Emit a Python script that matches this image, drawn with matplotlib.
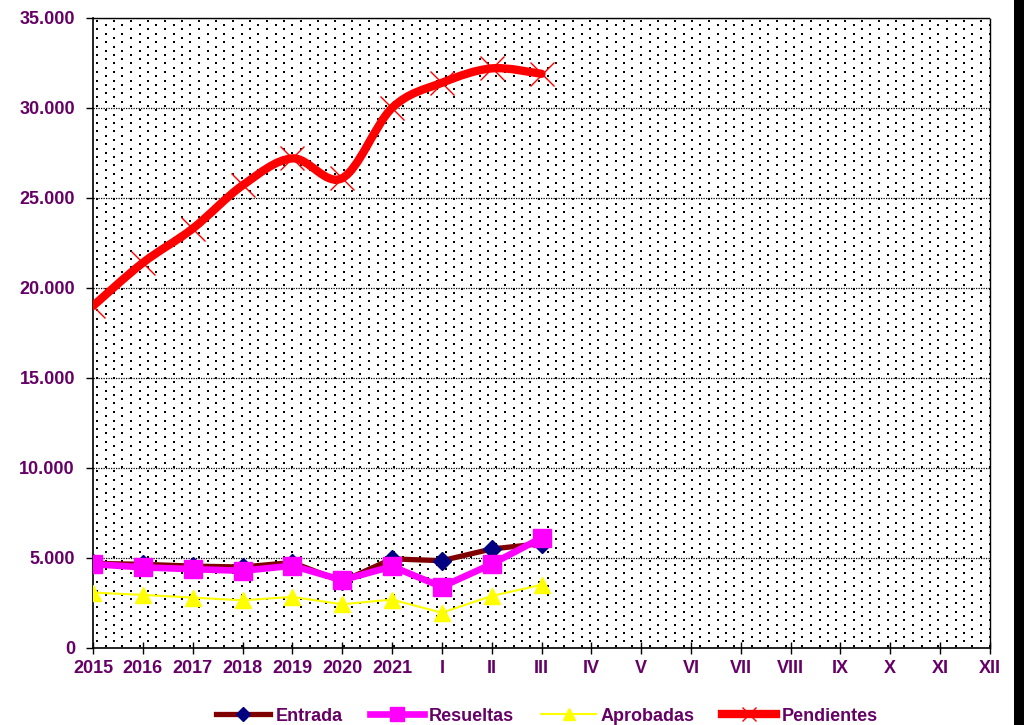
import numpy as np
import matplotlib
matplotlib.use('Agg')
import matplotlib.pyplot as plt
from matplotlib.path import Path
from matplotlib.patches import PathPatch, Rectangle
from matplotlib.lines import Line2D
from matplotlib.ticker import FuncFormatter

plt.rcParams['font.family'] = ['Liberation Sans', 'DejaVu Sans']

# categorias del eje X
categorias = ['2015', '2016', '2017', '2018', '2019', '2020', '2021',
              'I', 'II', 'III', 'IV', 'V', 'VI', 'VII', 'VIII', 'IX', 'X', 'XI', 'XII']

# valores (solo hay datos hasta III)
entrada = [4700, 4650, 4550, 4500, 4750, 3700, 4950, 4850, 5500, 5800]
resueltas = [4660, 4480, 4380, 4290, 4570, 3770, 4530, 3400, 4660, 6120]
aprobadas = [3080, 2950, 2800, 2650, 2840, 2430, 2690, 1960, 2890, 3510]
pendientes = [19000, 21400, 23300, 25700, 27200, 26100, 30000, 31400, 32200, 31900]

morado = '#660066'

fig = plt.figure(figsize=(10.24, 7.25), dpi=100)
ax = fig.add_axes([93 / 1024, 77 / 725, 897 / 1024, 630 / 725])

# fondo punteado tipo Excel
H, W = 630, 897
tex = np.zeros((H, W, 4))
paso = 8.5
for k, cx in enumerate(np.arange(3, W, paso)):
    off = 2 if k % 2 == 0 else 2 + paso / 2
    for cy in np.arange(off, H, paso):
        c, r = int(round(cx)), int(round(cy))
        tex[r:r + 2, c:c + 2, 3] = 1.0
ax.imshow(tex, extent=[0, 1, 0, 1], transform=ax.transAxes, aspect='auto',
          interpolation='nearest', zorder=0)

x = np.arange(len(entrada))

l1, = ax.plot(x, entrada, color='#800000', lw=3.8, marker='D', ms=9,
              mfc='#000080', mec='#000080', zorder=3, label='Entrada')
l2, = ax.plot(x, resueltas, color='#FF00FF', lw=4.8, marker='s', ms=13,
              mfc='#FF00FF', mec='#FF00FF', zorder=4, label='Resueltas')
l3, = ax.plot(x, aprobadas, color='#FFFF00', lw=1.5, marker='^', ms=11,
              mfc='#FFFF00', mec='#FFFF00', zorder=5, label='Aprobadas')

# linea suavizada de pendientes (curva bezier por los puntos)
pts = np.column_stack([x, pendientes]).astype(float)
n = len(pts)
verts = [pts[0]]
codes = [Path.MOVETO]
for i in range(n - 1):
    p0 = pts[max(i - 1, 0)]
    p1 = pts[i]
    p2 = pts[i + 1]
    p3 = pts[min(i + 2, n - 1)]
    verts += [p1 + (p2 - p0) / 6, p2 - (p3 - p1) / 6, p2]
    codes += [Path.CURVE4] * 3
ax.add_patch(PathPatch(Path(verts, codes), facecolor='none', edgecolor='#FF0000',
                       lw=6.0, capstyle='round', joinstyle='round', zorder=6))
ax.plot(x, pendientes, linestyle='none', marker='x', ms=17, mew=1.0,
        color='#FF0000', zorder=7)

ax.set_xlim(0, len(categorias) - 1)
ax.set_ylim(0, 35000)
ax.set_xticks(range(len(categorias)))
ax.set_xticklabels(categorias)
ax.set_yticks(range(0, 35001, 5000))
ax.yaxis.set_major_formatter(FuncFormatter(lambda v, p: f'{int(v):,}'.replace(',', '.')))

ax.yaxis.grid(True, linestyle=(0, (1, 1)), color='black', lw=0.9)
ax.set_axisbelow(True)
for s in ['top', 'right']:
    ax.spines[s].set_linestyle((0, (1, 1)))
    ax.spines[s].set_linewidth(1.0)
for s in ['left', 'bottom']:
    ax.spines[s].set_linewidth(1.2)

ax.tick_params(axis='x', direction='inout', length=9, width=1, pad=4,
               labelsize=13, labelcolor=morado)
ax.tick_params(axis='y', direction='out', length=5, width=1, pad=8,
               labelsize=13, labelcolor=morado)
for lab in ax.get_xticklabels() + ax.get_yticklabels():
    lab.set_fontweight('bold')

l4 = Line2D([], [], color='#FF0000', lw=6.0, marker='x', ms=12, mew=1.0,
            label='Pendientes')
fig.legend(handles=[l1, l2, l3, l4], loc='center', bbox_to_anchor=(0.534, 0.012),
           ncol=4, frameon=False, handlelength=3.0, handletextpad=0.3,
           columnspacing=1.5, numpoints=1, markerscale=0.8,
           prop={'size': 13, 'weight': 'bold'}, labelcolor=morado)

# franja negra del borde derecho
fig.add_artist(Rectangle((1014 / 1024, 0), 10 / 1024, 1, transform=fig.transFigure,
                         facecolor='black', edgecolor='none'))

fig.savefig('out.png', dpi=100)
